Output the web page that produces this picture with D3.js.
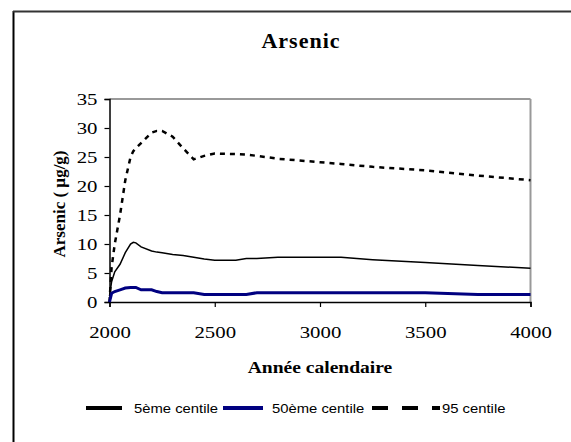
<!DOCTYPE html>
<html><head><meta charset="utf-8">
<script src="https://cdnjs.cloudflare.com/ajax/libs/d3/7.8.5/d3.min.js"></script>
<style>body{margin:0;background:#fff}svg{display:block}</style>
</head><body>
<script>
const years = [2000,2010,2025,2050,2075,2100,2113,2125,2150,2200,2225,2250,2300,2350,2400,2450,2500,2600,2650,2700,2800,3000,3100,3250,3500,3750,4000];
const p5  = [1.0,3.5,5.2,6.5,8.5,10.0,10.3,10.2,9.5,8.8,8.6,8.5,8.2,8.0,7.7,7.4,7.2,7.2,7.5,7.5,7.7,7.7,7.7,7.3,6.8,6.3,5.8];
const p50 = [0,1.5,1.8,2.1,2.4,2.5,2.5,2.5,2.1,2.1,1.8,1.6,1.6,1.6,1.6,1.3,1.3,1.3,1.3,1.6,1.6,1.6,1.6,1.6,1.6,1.3,1.3];
const p95 = [0,6,10,15,21,25,26,26.5,27.4,29.2,29.5,29.5,28.5,26.5,24.6,25.2,25.6,25.5,25.4,25.2,24.7,24.1,23.8,23.3,22.7,21.8,21.0];
const seriesNames = ["5ème centile","50ème centile","95 centile"];
const xTicks = [2000,2500,3000,3500,4000];
const yTicks = [0,5,10,15,20,25,30,35];
const title = "Arsenic";
const xTitle = "Année calendaire";
const yTitle = "Arsenic ( µg/g)";

const W = 571, H = 442;
const svg = d3.select("body").append("svg").attr("width", W).attr("height", H);

function stretch(sel, f){
  sel.each(function(){
    const w = this.getComputedTextLength();
    d3.select(this).attr("textLength", w*f).attr("lengthAdjust","spacingAndGlyphs");
  });
}

// outer frame
svg.append("line").attr("x1",13.5).attr("y1",11).attr("x2",13.5).attr("y2",H).attr("stroke","#000").attr("stroke-width",2);
svg.append("line").attr("x1",13).attr("y1",11.5).attr("x2",W).attr("y2",11.5).attr("stroke","#333").attr("stroke-width",2);

const x = d3.scaleLinear().domain([2000,4000]).range([109.5,530.5]);
const y = d3.scaleLinear().domain([0,35]).range([302,99]);

svg.append("line").attr("x1",x(2000)).attr("x2",x(4000)).attr("y1",y(35)).attr("y2",y(35)).attr("stroke","#999").attr("stroke-width",2);
svg.append("line").attr("x1",x(4000)).attr("x2",x(4000)).attr("y1",y(35)).attr("y2",y(0)).attr("stroke","#999").attr("stroke-width",2);

const serif = "'Liberation Serif','Times New Roman',serif";
const sans = "'Liberation Sans',Arial,sans-serif";

const yAxis = svg.append("g").attr("transform",`translate(${x(2000)},0)`)
  .call(d3.axisLeft(y).tickValues(yTicks).tickSize(5).tickPadding(7).tickFormat(d3.format("d")));
const xAxis = svg.append("g").attr("transform",`translate(0,${y(0)})`)
  .call(d3.axisBottom(x).tickValues(xTicks).tickSize(5).tickPadding(20).tickFormat(d3.format("d")));
[yAxis,xAxis].forEach(a=>{
  a.select(".domain").attr("stroke","#000").attr("stroke-width",1.5);
  a.selectAll(".tick line").attr("stroke","#000").attr("stroke-width",1.2);
  a.selectAll("text").attr("font-family",serif).attr("font-size",16).attr("fill","#000");
  stretch(a.selectAll("text"),1.3);
});

const lineGen = vals => d3.line().x((d,i)=>x(years[i])).y(d=>y(d))(vals);

svg.append("path").attr("d",lineGen(p95)).attr("fill","none").attr("stroke","#000").attr("stroke-width",2.5).attr("stroke-dasharray","5,5");
svg.append("path").attr("d",lineGen(p5)).attr("fill","none").attr("stroke","#000").attr("stroke-width",1.5);
svg.append("path").attr("d",lineGen(p50)).attr("fill","none").attr("stroke","#000080").attr("stroke-width",3);

svg.append("text").attr("x",301).attr("y",48).attr("text-anchor","middle").attr("font-family",serif)
  .attr("font-weight","bold").attr("font-size",22).attr("letter-spacing",1).text(title);
const xt = svg.append("text").attr("x",320).attr("y",373).attr("text-anchor","middle").attr("font-family",serif)
  .attr("font-weight","bold").attr("font-size",17).text(xTitle);
stretch(xt,1.15);
svg.append("text").attr("transform","translate(65,204) rotate(-90)").attr("text-anchor","middle").attr("font-family",serif)
  .attr("font-weight","bold").attr("font-size",17).text(yTitle);

// legend
const leg = [
  {x1:86,x2:122,tx:134,color:"#000",dash:null,w:4},
  {x1:223,x2:263,tx:272,color:"#000080",dash:null,w:4},
  {x1:372,x2:440,tx:442,color:"#000",dash:"16,14",w:4}
];
leg.forEach((l,i)=>{
  svg.append("line").attr("x1",l.x1).attr("x2",l.x2).attr("y1",408).attr("y2",408)
    .attr("stroke",l.color).attr("stroke-width",l.w).attr("stroke-dasharray",l.dash);
  const t = svg.append("text").attr("x",l.tx).attr("y",413).attr("font-family",sans).attr("font-size",13).text(seriesNames[i]);
  stretch(t,1.14);
});
</script>
</body></html>
